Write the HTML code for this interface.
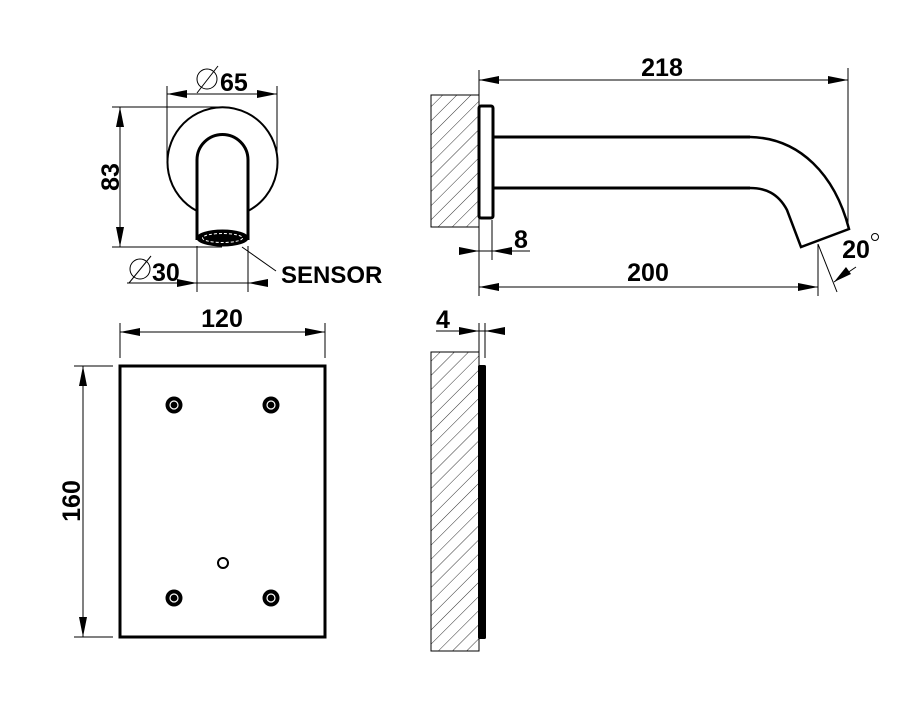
<!DOCTYPE html>
<html><head><meta charset="utf-8"><style>
html,body{margin:0;padding:0;background:#fff;}
svg{display:block}
text{font-family:"Liberation Sans",Arial,sans-serif;font-weight:bold;fill:#000}
</style></head><body>
<svg width="900" height="711" viewBox="0 0 900 711" xmlns="http://www.w3.org/2000/svg">
<defs>
<pattern id="h" patternUnits="userSpaceOnUse" width="10" height="10" patternTransform="rotate(45)">
<line x1="0" y1="0" x2="0" y2="10" stroke="#000" stroke-width="0.8"/>
</pattern>
</defs>
<g fill="none" stroke="#000">
<!-- top-left view -->
<path d="M197 211 A55 55 0 1 1 248 211" stroke-width="2"/>
<path d="M197 240 L197 160 A25.5 25.5 0 0 1 248 160 L248 240" stroke-width="3"/>
<ellipse cx="222.5" cy="238" rx="25.5" ry="8" fill="#000" stroke-width="1"/>
<ellipse cx="222.5" cy="238" rx="20" ry="4.5" stroke-width="1" stroke="#fff" stroke-dasharray="3 2"/>
<!-- dim 65 -->
<line x1="167" y1="94" x2="277" y2="94" stroke-width="1"/>
<line x1="167" y1="86" x2="167" y2="160" stroke-width="1"/>
<line x1="277" y1="86" x2="277" y2="160" stroke-width="1"/>
<!-- dim 83 -->
<line x1="120" y1="107" x2="120" y2="247" stroke-width="1"/>
<line x1="112" y1="107" x2="222" y2="107" stroke-width="1"/>
<line x1="112" y1="247" x2="222" y2="247" stroke-width="1"/>
<!-- dim 30 -->
<line x1="127" y1="283" x2="265" y2="283" stroke-width="1"/>
<line x1="197" y1="246" x2="197" y2="292" stroke-width="1"/>
<line x1="248" y1="246" x2="248" y2="292" stroke-width="1"/>
<path d="M242 247 L276 271" stroke-width="1"/>
<circle cx="207" cy="79" r="10" stroke-width="1"/><line x1="197" y1="93" x2="218" y2="66" stroke-width="1"/>
<circle cx="140" cy="269" r="10" stroke-width="1"/><line x1="129" y1="283" x2="151" y2="256" stroke-width="1"/>

<!-- top-right view -->
<rect x="431" y="95" width="48" height="132" fill="url(#h)" stroke-width="1"/>
<rect x="479" y="106" width="14" height="112" rx="2" fill="#fff" stroke-width="3"/>
<path d="M493 137 L750 137" stroke-width="3"/>
<path d="M493 188 L750 188" stroke-width="3"/>
<path d="M750 137 C800 138 835 175 849 229 L801 247 L787 210 C778 193 765 188 750 188" stroke-width="2.5"/>
<line x1="479" y1="80" x2="848" y2="80" stroke-width="1"/>
<line x1="479" y1="70" x2="479" y2="95" stroke-width="1"/>
<line x1="848" y1="68" x2="848" y2="228" stroke-width="1"/>
<line x1="460" y1="251" x2="530" y2="251" stroke-width="1"/>
<line x1="492" y1="220" x2="492" y2="260" stroke-width="1"/>
<line x1="479" y1="227" x2="479" y2="296" stroke-width="1"/>
<line x1="479" y1="287" x2="818" y2="287" stroke-width="1"/>
<line x1="818" y1="244" x2="818" y2="296" stroke-width="1"/>
<line x1="818" y1="244" x2="837" y2="292" stroke-width="1"/>
<line x1="834" y1="282" x2="856" y2="267" stroke-width="1"/>
<circle cx="875" cy="237" r="3.5" stroke-width="1"/>

<!-- bottom-left view -->
<rect x="120" y="366" width="205" height="271" stroke-width="3"/>
<line x1="120" y1="332" x2="325" y2="332" stroke-width="1"/>
<line x1="120" y1="323" x2="120" y2="358" stroke-width="1"/>
<line x1="325" y1="323" x2="325" y2="358" stroke-width="1"/>
<line x1="83" y1="366" x2="83" y2="637" stroke-width="1"/>
<line x1="74" y1="366" x2="113" y2="366" stroke-width="1"/>
<line x1="74" y1="637" x2="113" y2="637" stroke-width="1"/>
<circle cx="223" cy="563" r="5" stroke-width="2"/>

<!-- bottom-right view -->
<rect x="431" y="352" width="48" height="299" fill="url(#h)" stroke-width="1"/>
<rect x="478" y="365" width="8" height="274" rx="1.5" fill="#000" stroke="none"/>
<line x1="436" y1="331" x2="505" y2="331" stroke-width="1"/>
<line x1="479" y1="323" x2="479" y2="352" stroke-width="1"/>
<line x1="485" y1="323" x2="485" y2="358" stroke-width="1"/>
</g>
<g fill="#000">
<path d="M167 94 L187 90 L187 98Z"/><path d="M277 94 L257 90 L257 98Z"/>
<path d="M120 107 L116 127 L124 127Z"/><path d="M120 247 L116 227 L124 227Z"/>
<path d="M197 283 L177 279 L177 287Z"/><path d="M248 283 L268 279 L268 287Z"/>
<path d="M479 80 L499 76 L499 84Z"/><path d="M848 80 L828 76 L828 84Z"/>
<path d="M479 251 L459 247 L459 255Z"/><path d="M492 251 L512 247 L512 255Z"/>
<path d="M479 287 L499 283 L499 291Z"/><path d="M818 287 L798 283 L798 291Z"/>
<path d="M834 282 L846 267 L851 274Z"/>
<path d="M120 332 L140 328 L140 336Z"/><path d="M325 332 L305 328 L305 336Z"/>
<path d="M83 366 L79 386 L87 386Z"/><path d="M83 637 L79 617 L87 617Z"/>
<path d="M479 331 L459 327 L459 335Z"/><path d="M485 331 L505 327 L505 335Z"/>
<circle cx="174" cy="405" r="8.5"/><circle cx="271" cy="405" r="8.5"/>
<circle cx="174" cy="598" r="8.5"/><circle cx="271" cy="598" r="8.5"/>
</g>
<g fill="none" stroke="#fff" stroke-width="1.2">
<circle cx="174" cy="405" r="4"/><circle cx="271" cy="405" r="4"/>
<circle cx="174" cy="598" r="4"/><circle cx="271" cy="598" r="4"/>
</g>
<text x="220" y="91" font-size="25">65</text>
<text x="152" y="281" font-size="25">30</text>
<text x="281" y="283" font-size="24">SENSOR</text>
<text transform="translate(119,177) rotate(-90)" text-anchor="middle" font-size="25">83</text>
<text x="662" y="76" text-anchor="middle" font-size="25">218</text>
<text x="521" y="248" text-anchor="middle" font-size="25">8</text>
<text x="648" y="281" text-anchor="middle" font-size="25">200</text>
<text x="856" y="258" text-anchor="middle" font-size="25">20</text>
<text x="222" y="327" text-anchor="middle" font-size="25">120</text>
<text transform="translate(80,501) rotate(-90)" text-anchor="middle" font-size="25">160</text>
<text x="443" y="328" text-anchor="middle" font-size="25">4</text>
</svg>
</body></html>
